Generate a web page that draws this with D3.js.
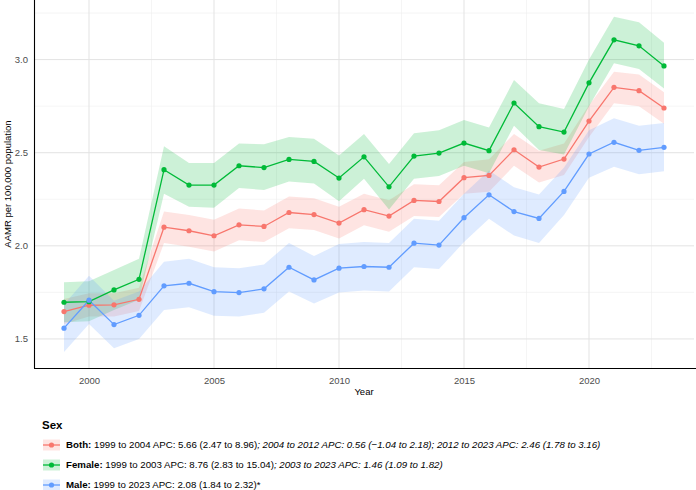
<!DOCTYPE html>
<html>
<head>
<meta charset="utf-8">
<script src="https://d3js.org/d3.v7.min.js"></script>
<style>
  body { margin: 0; background: #fff; }
  svg { display: block; font-family: "Liberation Sans", Arial, sans-serif; }
</style>
</head>
<body>
<script>
// data
var years = d3.range(1999, 2024);

var both     = [1.647,1.681,1.683,1.713,2.100,2.081,2.054,2.113,2.104,2.179,2.168,2.122,2.194,2.160,2.244,2.238,2.366,2.378,2.516,2.423,2.466,2.670,2.851,2.833,2.740];
var bothLo   = [1.580,1.620,1.620,1.650,2.015,1.995,1.970,2.030,2.020,2.095,2.085,2.040,2.110,2.075,2.160,2.155,2.280,2.290,2.430,2.340,2.380,2.585,2.765,2.750,2.655];
var bothHi   = [1.715,1.745,1.745,1.775,2.185,2.165,2.140,2.200,2.190,2.265,2.255,2.210,2.280,2.245,2.330,2.325,2.450,2.465,2.600,2.510,2.550,2.755,2.935,2.920,2.825];

var female   = [1.697,1.700,1.763,1.820,2.409,2.326,2.326,2.430,2.420,2.464,2.453,2.364,2.478,2.317,2.482,2.498,2.552,2.511,2.767,2.640,2.611,2.875,3.106,3.074,2.966];
var femaleLo = [1.590,1.595,1.655,1.710,2.280,2.210,2.205,2.310,2.300,2.345,2.335,2.240,2.360,2.195,2.360,2.375,2.430,2.390,2.645,2.515,2.490,2.750,2.980,2.950,2.845];
var femaleHi = [1.805,1.810,1.870,1.930,2.535,2.445,2.445,2.550,2.545,2.585,2.575,2.485,2.600,2.440,2.605,2.620,2.675,2.635,2.890,2.765,2.735,3.000,3.230,3.200,3.090];

var male     = [1.558,1.708,1.577,1.627,1.785,1.799,1.754,1.749,1.769,1.885,1.817,1.880,1.889,1.885,2.014,2.004,2.151,2.274,2.184,2.147,2.292,2.493,2.556,2.513,2.529];
var maleLo   = [1.430,1.580,1.450,1.500,1.655,1.670,1.625,1.620,1.640,1.755,1.690,1.750,1.760,1.755,1.885,1.875,2.020,2.145,2.055,2.015,2.165,2.365,2.425,2.385,2.400];
var maleHi   = [1.685,1.840,1.705,1.755,1.915,1.930,1.885,1.880,1.900,2.015,1.945,2.010,2.020,2.015,2.145,2.135,2.280,2.405,2.315,2.275,2.420,2.620,2.685,2.645,2.660];

var groups  = ["Both", "Female", "Male"];
var colors  = ["#F8766D", "#00BA38", "#619CFF"];
var xTicks  = [2000, 2005, 2010, 2015, 2020];
var yTicks  = [1.5, 2.0, 2.5, 3.0];

// legend text pieces: [bold, plain, italic]
var legendText = [
  ["Both:", " 1999 to 2004 APC: 5.66 (2.47 to 8.96)", "; 2004 to 2012 APC: 0.56 (\u22121.04 to 2.18); 2012 to 2023 APC: 2.46 (1.78 to 3.16)"],
  ["Female:", " 1999 to 2003 APC: 8.76 (2.83 to 15.04)", "; 2003 to 2023 APC: 1.46 (1.09 to 1.82)"],
  ["Male:", " 1999 to 2023 APC: 2.08 (1.84 to 2.32)*", ""]
];

var series = [
  {v: both,   lo: bothLo,   hi: bothHi},
  {v: female, lo: femaleLo, hi: femaleHi},
  {v: male,   lo: maleLo,   hi: maleHi}
];

var W = 696, H = 490;
var pLeft = 34, pRight = 694, pTop = 0, pBottom = 368;

var svg = d3.select("body").append("svg").attr("width", W).attr("height", H);

var x = d3.scaleLinear().domain([1997.8, 2024.2]).range([pLeft, pRight]);
var y = d3.scaleLinear().domain([1.344, 3.32]).range([pBottom, pTop]);

// grid
var grid = svg.append("g");
var minorX = [2002.5, 2007.5, 2012.5, 2017.5, 2022.5];
var minorY = [1.75, 2.25, 2.75, 3.25];
grid.selectAll(".gxm").data(minorX).enter().append("line")
  .attr("x1", x).attr("x2", x).attr("y1", pTop).attr("y2", pBottom)
  .attr("stroke", "#efefef").attr("stroke-width", 0.6);
grid.selectAll(".gym").data(minorY).enter().append("line")
  .attr("y1", y).attr("y2", y).attr("x1", pLeft).attr("x2", pRight)
  .attr("stroke", "#efefef").attr("stroke-width", 0.6);
grid.selectAll(".gx").data(xTicks).enter().append("line")
  .attr("x1", x).attr("x2", x).attr("y1", pTop).attr("y2", pBottom)
  .attr("stroke", "#e3e3e3").attr("stroke-width", 1);
grid.selectAll(".gy").data(yTicks).enter().append("line")
  .attr("y1", y).attr("y2", y).attr("x1", pLeft).attr("x2", pRight)
  .attr("stroke", "#e3e3e3").attr("stroke-width", 1);

// ribbons, lines, points
var area = d3.area()
  .x(function(d){ return x(d.year); })
  .y0(function(d){ return y(d.lo); })
  .y1(function(d){ return y(d.hi); });
var line = d3.line()
  .x(function(d){ return x(d.year); })
  .y(function(d){ return y(d.v); });

var rows = series.map(function(s){
  return years.map(function(yr, i){ return {year: yr, v: s.v[i], lo: s.lo[i], hi: s.hi[i]}; });
});

rows.forEach(function(r, i){
  svg.append("path").attr("d", area(r)).attr("fill", colors[i]).attr("fill-opacity", 0.2);
});
rows.forEach(function(r, i){
  svg.append("path").attr("d", line(r)).attr("fill", "none")
    .attr("stroke", colors[i]).attr("stroke-width", 1.3);
});
rows.forEach(function(r, i){
  svg.append("g").selectAll("circle").data(r).enter().append("circle")
    .attr("cx", function(d){ return x(d.year); })
    .attr("cy", function(d){ return y(d.v); })
    .attr("r", 2.6).attr("fill", colors[i]);
});

// axes
var xAxis = svg.append("g").attr("transform", "translate(0," + pBottom + ")")
  .call(d3.axisBottom(x).tickValues(xTicks).tickFormat(d3.format("d")).tickSize(0).tickPadding(9));
xAxis.select(".domain").remove();
xAxis.selectAll("text").attr("fill", "#4d4d4d").style("font-size", "9.5px");

var yAxis = svg.append("g").attr("transform", "translate(" + pLeft + ",0)")
  .call(d3.axisLeft(y).tickValues(yTicks).tickFormat(d3.format(".1f")).tickSize(0).tickPadding(6));
yAxis.select(".domain").remove();
yAxis.selectAll("text").attr("fill", "#4d4d4d").style("font-size", "9.5px");

svg.append("line").attr("x1", pLeft + 0.5).attr("x2", pLeft + 0.5).attr("y1", pTop).attr("y2", pBottom)
  .attr("stroke", "#000").attr("stroke-width", 1.1);
svg.append("line").attr("x1", pLeft).attr("x2", W).attr("y1", pBottom + 0.5).attr("y2", pBottom + 0.5)
  .attr("stroke", "#000").attr("stroke-width", 1.1);

svg.append("text").attr("x", (pLeft + pRight) / 2).attr("y", 395)
  .attr("text-anchor", "middle").style("font-size", "9.5px").text("Year");
svg.append("text").attr("transform", "translate(11," + (pBottom / 2) + ") rotate(-90)")
  .attr("text-anchor", "middle").style("font-size", "9.5px").text("AAMR per 100,000 population");

// legend
var lg = svg.append("g");
lg.append("text").attr("x", 42).attr("y", 429).style("font-size", "11.5px").style("font-weight", "bold").text("Sex");
groups.forEach(function(g, i){
  var cy = 445 + i * 20;
  lg.append("rect").attr("x", 43).attr("y", cy - 5.5).attr("width", 17).attr("height", 11)
    .attr("fill", colors[i]).attr("fill-opacity", 0.2);
  lg.append("line").attr("x1", 43).attr("x2", 60).attr("y1", cy).attr("y2", cy)
    .attr("stroke", colors[i]).attr("stroke-width", 1.3);
  lg.append("circle").attr("cx", 51.5).attr("cy", cy).attr("r", 2.6).attr("fill", colors[i]);
  var t = lg.append("text").attr("x", 66).attr("y", cy + 3.3).style("font-size", "9.7px");
  t.append("tspan").style("font-weight", "bold").text(legendText[i][0]);
  t.append("tspan").text(legendText[i][1]);
  t.append("tspan").style("font-style", "italic").text(legendText[i][2]);
});
</script>
</body>
</html>
